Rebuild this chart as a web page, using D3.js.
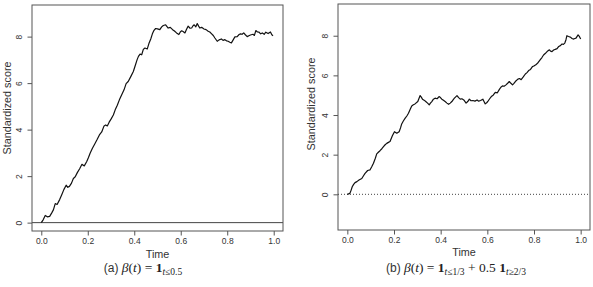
<!DOCTYPE html>
<html>
<head>
<meta charset="utf-8">
<script src="https://cdn.jsdelivr.net/npm/d3@7"></script>
<style>
  body { margin: 0; background: #fff; }
  svg { display: block; }
</style>
</head>
<body>
<svg id="chart" width="593" height="287"></svg>
<script>
// panel (a): beta(t) = 1{t <= 0.5}
const timeA = [0, 0.008, 0.017, 0.026, 0.036, 0.045, 0.052, 0.06, 0.068, 0.079, 0.088, 0.097, 0.107, 0.114, 0.121, 0.13, 0.138, 0.146, 0.155, 0.165,
  0.175, 0.185, 0.195, 0.203, 0.21, 0.22, 0.23, 0.239, 0.25, 0.26, 0.27, 0.277, 0.284, 0.292, 0.3, 0.31, 0.318, 0.327, 0.336, 0.346,
  0.356, 0.365, 0.374, 0.385, 0.396, 0.405, 0.412, 0.418, 0.425, 0.432, 0.439, 0.446, 0.456, 0.463, 0.471, 0.478, 0.485, 0.492, 0.5, 0.51,
  0.518, 0.525, 0.535, 0.546, 0.555, 0.565, 0.573, 0.582, 0.592, 0.598, 0.604, 0.61, 0.618, 0.625, 0.632, 0.64, 0.647, 0.653, 0.658, 0.665,
  0.671, 0.677, 0.682, 0.69, 0.7, 0.709, 0.718, 0.725, 0.732, 0.74, 0.747, 0.757, 0.765, 0.775, 0.782, 0.79, 0.797, 0.804, 0.811, 0.818,
  0.825, 0.833, 0.843, 0.85, 0.857, 0.864, 0.871, 0.878, 0.886, 0.893, 0.9, 0.911, 0.917, 0.923, 0.93, 0.937, 0.944, 0.951, 0.959, 0.966,
  0.976, 0.986, 0.992, 0.997];
const scoreA = [0, 0.12, 0.31, 0.25, 0.27, 0.42, 0.55, 0.82, 0.78, 0.99, 1.2, 1.42, 1.61, 1.52, 1.56, 1.7, 1.9, 1.97, 2.15, 2.32,
  2.51, 2.44, 2.62, 2.8, 2.98, 3.2, 3.38, 3.55, 3.77, 3.9, 4.16, 4.2, 4.16, 4.32, 4.45, 4.63, 4.85, 5.05, 5.28, 5.5,
  5.71, 5.98, 6.07, 6.28, 6.5, 6.78, 7.0, 7.15, 7.25, 7.22, 7.45, 7.51, 7.47, 7.7, 7.9, 8.12, 8.27, 8.35, 8.33, 8.3,
  8.42, 8.48, 8.51, 8.37, 8.4, 8.3, 8.24, 8.16, 8.09, 8.2, 8.25, 8.22, 8.16, 8.32, 8.45, 8.36, 8.37, 8.47, 8.51, 8.42,
  8.56, 8.45, 8.37, 8.4, 8.33, 8.3, 8.23, 8.2, 8.13, 8.05, 7.94, 7.8, 7.86, 7.9, 7.84, 7.87, 7.82, 7.8, 7.76, 7.73,
  7.85, 7.99, 8.0, 8.08, 8.12, 8.1, 8.16, 8.08, 8.0, 8.04, 8.07, 8.1, 8.05, 8.26, 8.2, 8.19, 8.12, 8.16, 8.1, 8.19,
  8.13, 8.2, 8.08, 8.04];

// panel (b): beta(t) = 1{t <= 1/3} + 0.5 * 1{t >= 2/3}
const timeB = [0, 0.011, 0.016, 0.021, 0.027, 0.033, 0.041, 0.05, 0.062, 0.07, 0.076, 0.087, 0.097, 0.104, 0.112, 0.12, 0.126, 0.133, 0.14, 0.148,
  0.155, 0.162, 0.169, 0.176, 0.183, 0.193, 0.202, 0.212, 0.222, 0.228, 0.233, 0.24, 0.248, 0.255, 0.262, 0.27, 0.276, 0.283, 0.29, 0.302,
  0.312, 0.317, 0.322, 0.329, 0.336, 0.344, 0.351, 0.356, 0.362, 0.369, 0.376, 0.385, 0.393, 0.399, 0.405, 0.412, 0.419, 0.427, 0.434, 0.441,
  0.448, 0.454, 0.459, 0.47, 0.477, 0.484, 0.491, 0.499, 0.509, 0.516, 0.523, 0.53, 0.538, 0.547, 0.556, 0.563, 0.571, 0.581, 0.591, 0.597,
  0.602, 0.61, 0.617, 0.625, 0.634, 0.643, 0.651, 0.658, 0.665, 0.672, 0.68, 0.687, 0.694, 0.701, 0.708, 0.714, 0.72, 0.731, 0.738, 0.745,
  0.754, 0.763, 0.77, 0.777, 0.785, 0.794, 0.801, 0.808, 0.818, 0.827, 0.834, 0.841, 0.848, 0.856, 0.866, 0.871, 0.877, 0.884, 0.891, 0.899,
  0.906, 0.913, 0.92, 0.926, 0.932, 0.937, 0.941, 0.948, 0.956, 0.963, 0.97, 0.975, 0.98, 0.989, 0.995, 1.0];
const scoreB = [0, 0.05, 0.2, 0.38, 0.5, 0.59, 0.64, 0.72, 0.8, 0.95, 1.06, 1.2, 1.23, 1.38, 1.57, 1.82, 2.04, 2.12, 2.2, 2.3,
  2.4, 2.5, 2.57, 2.62, 2.66, 2.95, 3.16, 3.08, 3.16, 3.35, 3.55, 3.7, 3.84, 3.95, 4.09, 4.3, 4.46, 4.52, 4.56, 4.68,
  4.98, 4.9, 4.8, 4.75, 4.68, 4.6, 4.51, 4.6, 4.68, 4.8, 4.85, 4.82, 4.93, 4.88, 4.8, 4.74, 4.68, 4.6, 4.54, 4.6,
  4.68, 4.78, 4.85, 4.98, 4.88, 4.8, 4.82, 4.76, 4.6, 4.68, 4.8, 4.72, 4.73, 4.7, 4.76, 4.7, 4.73, 4.8, 4.56, 4.62,
  4.68, 4.82, 4.93, 5.0, 5.14, 5.12, 5.28, 5.4, 5.47, 5.45, 5.52, 5.6, 5.69, 5.6, 5.52, 5.6, 5.69, 5.81, 5.84, 5.78,
  5.92, 6.07, 6.14, 6.24, 6.3, 6.45, 6.48, 6.53, 6.65, 6.79, 6.9, 7.03, 7.1, 7.2, 7.29, 7.22, 7.2, 7.28, 7.31, 7.35,
  7.46, 7.5, 7.58, 7.56, 7.63, 7.8, 8.0, 7.96, 7.93, 7.86, 7.83, 7.86, 7.88, 8.04, 7.95, 7.83];

const xTicks = [0, 0.2, 0.4, 0.6, 0.8, 1.0];
const yTicks = [0, 2, 4, 6, 8];

const svg = d3.select('#chart');
const sans = '"Liberation Sans", Arial, sans-serif';
const serif = '"Liberation Serif", "DejaVu Serif", serif';

function panel(opts)
{
  const x = d3.scaleLinear().domain([-0.04, 1.04]).range([opts.left, opts.right]);
  const y = d3.scaleLinear().domain(opts.yDomain).range([opts.bottom, opts.top]);
  const g = svg.append('g');

  // zero reference line
  g.append('line')
      .attr('x1', opts.left).attr('x2', opts.right)
      .attr('y1', y(0)).attr('y2', y(0))
      .attr('stroke', '#444')
      .attr('stroke-width', 1)
      .attr('stroke-dasharray', opts.zeroDash);

  // the score path
  const line = d3.line().x(d => x(d[0])).y(d => y(d[1]));
  g.append('path')
      .datum(opts.t.map((t, i) => [t, opts.v[i]]))
      .attr('d', line)
      .attr('fill', 'none')
      .attr('stroke', '#111')
      .attr('stroke-width', 1.2)
      .attr('stroke-linejoin', 'round');

  // box
  g.append('rect')
      .attr('x', opts.left).attr('y', opts.top)
      .attr('width', opts.right - opts.left)
      .attr('height', opts.bottom - opts.top)
      .attr('fill', 'none')
      .attr('stroke', '#555')
      .attr('stroke-width', 1);

  // x axis
  const xAxis = d3.axisBottom(x).tickValues(xTicks).tickFormat(d3.format('.1f')).tickSize(4.5).tickPadding(2);
  const xg = g.append('g')
      .attr('transform', 'translate(0,' + opts.bottom + ')')
      .call(xAxis);
  xg.select('.domain').remove();
  xg.selectAll('line').attr('stroke', '#555');
  xg.selectAll('text').attr('font-size', 8.5).attr('fill', '#333').attr('font-family', sans);

  // y axis, labels turned like R's default (tick groups already sit at y(d))
  const yAxis = d3.axisLeft(y).tickValues(yTicks).tickSize(4.5);
  const yg = g.append('g')
      .attr('transform', 'translate(' + opts.left + ',0)')
      .call(yAxis);
  yg.select('.domain').remove();
  yg.selectAll('line').attr('stroke', '#555');
  yg.selectAll('text')
      .attr('x', null).attr('dy', null)
      .attr('transform', 'translate(' + (opts.yTickX - opts.left) + ',0) rotate(-90)')
      .attr('text-anchor', 'middle')
      .attr('font-size', 8.5).attr('fill', '#333').attr('font-family', sans);

  // axis titles
  g.append('text')
      .attr('x', x(0.5)).attr('y', opts.timeY)
      .attr('text-anchor', 'middle')
      .attr('font-family', sans).attr('font-size', 10.8).attr('fill', '#333')
      .text('Time');

  g.append('text')
      .attr('transform', 'translate(' + opts.yLabX + ',' + opts.yLabMid + ') rotate(-90)')
      .attr('text-anchor', 'middle')
      .attr('font-family', sans).attr('font-size', 10.8).attr('fill', '#333')
      .text('Standardized score');
}

panel({left: 32, right: 283, top: 5, bottom: 231, yDomain: [-0.36, 9.36],
  t: timeA, v: scoreA, zeroDash: null, yTickX: 21.5, yLabX: 11, yLabMid: 108, timeY: 257.5});
panel({left: 338, right: 590, top: 4, bottom: 230, yDomain: [-1.8, 9.6],
  t: timeB, v: scoreB, zeroDash: '1,2', yTickX: 327.8, yLabX: 314.5, yLabMid: 104, timeY: 256});

// captions
function caption(cx, parts)
{
  const txt = svg.append('text')
      .attr('x', cx).attr('y', 272)
      .attr('text-anchor', 'middle')
      .attr('font-size', 13.5).attr('fill', '#222');
  parts.forEach(p => {
    const ts = txt.append('tspan')
        .attr('font-family', p.sans ? sans : serif)
        .text(p.s);
    if (p.sans) ts.attr('font-size', 12).attr('fill', '#333');
    if (p.it) ts.attr('font-style', 'italic');
    if (p.b) ts.attr('font-weight', 'bold');
    if (p.sub) ts.attr('font-size', 9.5).attr('baseline-shift', '-25%');
  });
}

caption(143, [
  {s: '(a) ', sans: true},
  {s: 'β', it: true}, {s: '('}, {s: 't', it: true}, {s: ') = '},
  {s: '1', b: true}, {s: 't', it: true, sub: true}, {s: '≤0.5', sub: true}
]);
caption(456, [
  {s: '(b) ', sans: true},
  {s: 'β', it: true}, {s: '('}, {s: 't', it: true}, {s: ') = '},
  {s: '1', b: true}, {s: 't', it: true, sub: true}, {s: '≤1/3', sub: true},
  {s: ' + 0.5 '}, {s: '1', b: true}, {s: 't', it: true, sub: true}, {s: '≥2/3', sub: true}
]);
</script>
</body>
</html>
